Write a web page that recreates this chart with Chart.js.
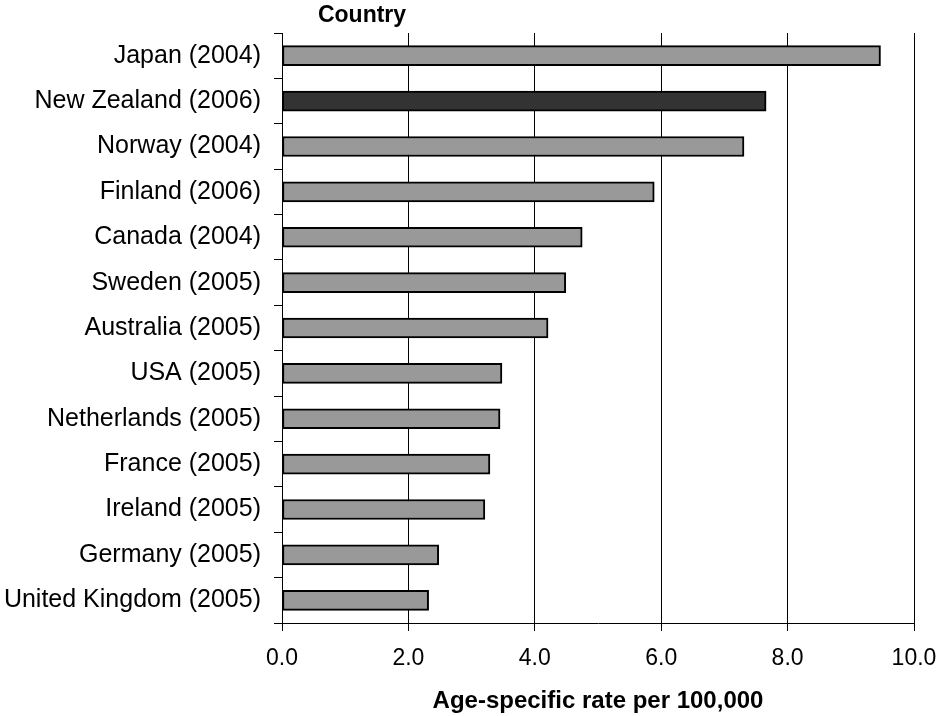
<!DOCTYPE html>
<html>
<head>
<meta charset="utf-8">
<script src="https://cdn.jsdelivr.net/npm/chart.js@4"></script>
<style>
  html, body { margin: 0; padding: 0; background: #fff; }
  #wrap { width: 938px; height: 716px; position: relative; }
</style>
</head>
<body>
<div id="wrap"><canvas id="chart"></canvas></div>
<script>
// dados
const countries = [
  "Japan (2004)", "New Zealand (2006)", "Norway (2004)", "Finland (2006)",
  "Canada (2004)", "Sweden (2005)", "Australia (2005)", "USA (2005)",
  "Netherlands (2005)", "France (2005)", "Ireland (2005)", "Germany (2005)",
  "United Kingdom (2005)"
];
const rates = [9.47, 7.66, 7.31, 5.89, 4.75, 4.49, 4.21, 3.48, 3.45, 3.29, 3.21, 2.48, 2.32];
const highlight = "New Zealand (2006)";
const xTicks = [0, 2, 4, 6, 8, 10];

const FONT = "'Liberation Sans', Arial, sans-serif";

// "Country" por cima dos rótulos
const countryLabel = {
  id: "countryLabel",
  afterDraw(chart) {
    const { ctx, chartArea } = chart;
    ctx.save();
    ctx.font = "bold 23px " + FONT;
    ctx.fillStyle = "#000";
    ctx.textAlign = "center";
    ctx.textBaseline = "middle";
    ctx.fillText("Country", chartArea.left + 80, 16);
    ctx.restore();
  }
};

new Chart(document.getElementById("chart"), {
  type: "bar",
  data: {
    labels: countries,
    datasets: [{
      data: rates,
      backgroundColor: countries.map(c => c === highlight ? "#333333" : "#999999"),
      borderColor: "#000",
      borderWidth: 2,
      borderSkipped: false,
      barThickness: 20
    }]
  },
  options: {
    indexAxis: "y",
    responsive: true,
    maintainAspectRatio: false,
    animation: false,
    layout: { padding: { top: 33, right: 0, left: 0, bottom: 0 } },
    plugins: { legend: { display: false }, tooltip: { enabled: false } },
    scales: {
      x: {
        min: 0, max: 10,
        afterBuildTicks: (axis) => { axis.ticks = xTicks.map(v => ({ value: v })); },
        afterFit: (axis) => { axis.height = 93; axis.paddingRight = 24; axis.paddingLeft = 0; },
        grid: { color: "#000", lineWidth: 1, tickLength: 8 },
        border: { color: "#000", width: 1 },
        ticks: {
          color: "#000",
          font: { family: FONT, size: 23 },
          padding: 14,
          maxRotation: 0,
          callback: (v) => Number(v).toFixed(1)
        },
        title: {
          display: true,
          text: "Age-specific rate per 100,000",
          color: "#000",
          font: { family: FONT, size: 24, weight: "bold" },
          padding: { top: 15, bottom: 0 }
        }
      },
      y: {
        offset: true,
        afterFit: (axis) => { axis.width = 282; },
        grid: { offset: true, drawOnChartArea: false, color: "#000", tickLength: 8 },
        border: { color: "#000", width: 1 },
        ticks: {
          color: "#000",
          font: { family: FONT, size: 25 },
          padding: 13,
          autoSkip: false
        }
      }
    }
  },
  plugins: [countryLabel]
});
</script>
</body>
</html>
